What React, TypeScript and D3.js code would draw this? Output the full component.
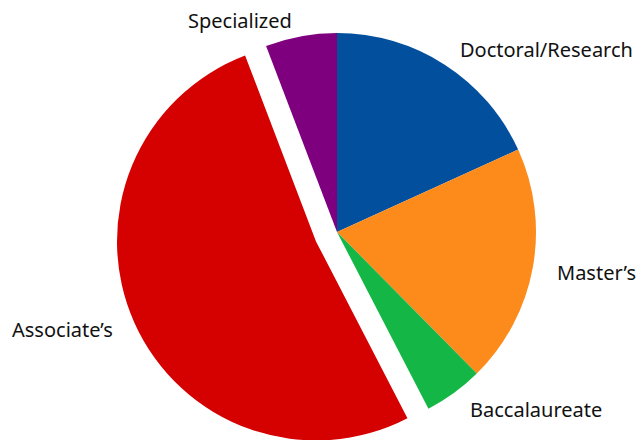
import React from "react";
import * as d3 from "d3";

const categories = ["Doctoral/Research", "Master\u2019s", "Baccalaureate", "Associate\u2019s", "Specialized"];
const values = [18.2, 19.4, 4.8, 51.8, 5.8];
const colors = ["#024f9e", "#fd8b1b", "#14b746", "#d50000", "#7f007f"];
const exploded = [false, false, false, true, false];

// label layout (relative to pie centre), separate from data
const labelLayout = [
  { dx: 123, dy: -175, anchor: "start" },
  { dx: 220, dy: 48, anchor: "start" },
  { dx: 133, dy: 185, anchor: "start" },
  { dx: -325, dy: 105, anchor: "start" },
  { dx: -149, dy: -204, anchor: "start" },
];

const W = 638;
const H = 440;
const cx = 337;
const cy = 232;
const R = 199;
const explode = 23;

export default function App() {
  const pie = d3.pie<number>().sort(null).value((d) => d)(values);
  const arc = d3.arc<d3.PieArcDatum<number>>().innerRadius(0).outerRadius(R);
  return (
    <svg width={W} height={H} style={{ position: "absolute", left: 0, top: 0, background: "#fff" }}>
      <g transform={`translate(${cx},${cy})`}>
        {pie.map((p, i) => {
          const mid = (p.startAngle + p.endAngle) / 2;
          const off = exploded[i] ? explode : 0;
          const tx = Math.sin(mid) * off;
          const ty = -Math.cos(mid) * off;
          return (
            <path key={i} d={arc(p) || ""} fill={colors[i]} transform={`translate(${tx},${ty})`} />
          );
        })}
        {categories.map((c, i) => (
          <text
            key={c}
            x={labelLayout[i].dx}
            y={labelLayout[i].dy}
            textAnchor={labelLayout[i].anchor as any}
            fontFamily="'Noto Sans', sans-serif"
            fontSize={20}
            fill="#111"
          >
            {c}
          </text>
        ))}
      </g>
    </svg>
  );
}
